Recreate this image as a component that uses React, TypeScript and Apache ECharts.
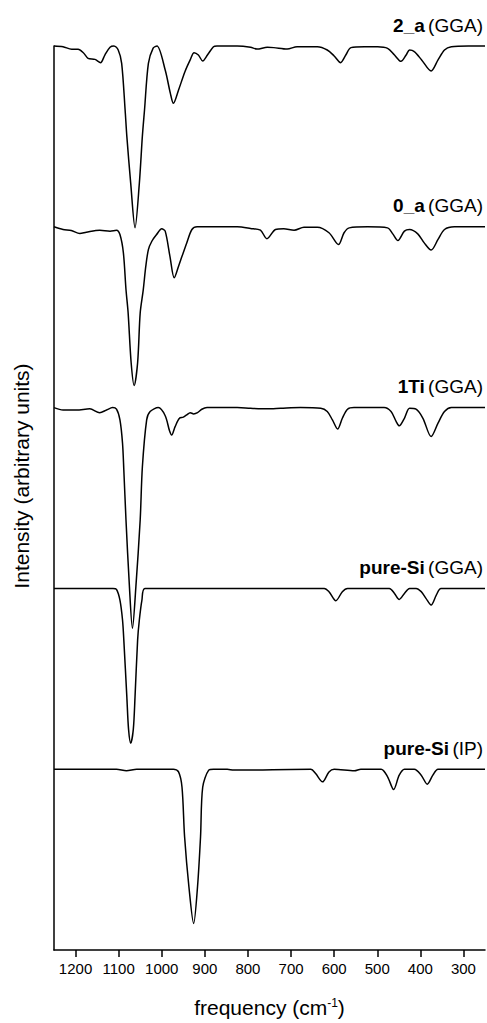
import React, { useEffect, useRef } from "react";
import * as echarts from "echarts";

// x-axis tick labels (wavenumber, cm^-1)
const tickValues = [1200, 1100, 1000, 900, 800, 700, 600, 500, 400, 300];

// spectrum names (bold part, method part)
const names = ["2_a", "0_a", "1Ti", "pure-Si", "pure-Si"];
const methods = ["(GGA)", "(GGA)", "(GGA)", "(GGA)", "(IP)"];
// vertical offsets of each stacked spectrum
const offsets = [5, 4, 3, 2, 1];

// [frequency, intensity] pairs
const spec2a: [number, number][] = [
  [1250, 0], [1229, -0.004], [1209, -0.018], [1194, -0.018], [1182, -0.037], [1171, -0.068],
  [1155, -0.074], [1142, -0.092], [1132, -0.05], [1120, -0.007], [1111, 0], [1101, -0.022],
  [1093, -0.096], [1085, -0.354], [1081, -0.5], [1072, -0.76], [1062, -1.005], [1052, -0.76],
  [1045, -0.5], [1040, -0.354], [1031, -0.096], [1020, -0.012], [1011, 0], [992, -0.133],
  [980, -0.262], [973, -0.317], [961, -0.243], [946, -0.141], [934, -0.077], [925, -0.037],
  [915, -0.05], [905, -0.083], [894, -0.05], [880, -0.004], [872, 0], [825, 0], [794, -0.007],
  [779, -0.017], [755, -0.007], [740, -0.009], [709, -0.017], [686, -0.004], [639, -0.004],
  [616, -0.022], [600, -0.055], [585, -0.092], [573, -0.05], [561, -0.009], [530, -0.004],
  [499, -0.004], [476, -0.013], [460, -0.05], [445, -0.085], [433, -0.05], [425, -0.022],
  [414, -0.031], [397, -0.077], [375, -0.138], [359, -0.077], [344, -0.022], [328, -0.004],
  [289, 0], [250, 0],
];

const spec0a: [number, number][] = [
  [1250, 0], [1229, -0.015], [1210, -0.02], [1190, -0.037], [1175, -0.03], [1144, -0.019],
  [1120, -0.024], [1105, -0.019], [1097, -0.043], [1089, -0.144], [1083, -0.347], [1078, -0.476],
  [1071, -0.752], [1064, -0.878], [1056, -0.752], [1050, -0.476], [1043, -0.35], [1037, -0.218],
  [1031, -0.126], [1023, -0.08], [1012, -0.043], [1000, -0.011], [992, -0.024], [981, -0.163],
  [971, -0.282], [961, -0.218], [953, -0.163], [942, -0.089], [930, -0.015], [918, 0], [825, 0],
  [794, -0.009], [771, -0.019], [756, -0.066], [736, -0.015], [717, -0.011], [693, -0.019],
  [670, -0.002], [639, -0.002], [612, -0.033], [590, -0.098], [577, -0.033], [565, -0.006],
  [522, 0], [476, -0.006], [464, -0.039], [452, -0.076], [437, -0.024], [425, -0.015],
  [406, -0.039], [391, -0.089], [375, -0.129], [359, -0.07], [344, -0.015], [321, 0], [250, 0],
];

const spec1Ti: [number, number][] = [
  [1250, 0], [1229, -0.013], [1198, -0.013], [1167, -0.007], [1144, -0.028], [1128, -0.013],
  [1114, 0], [1105, -0.009], [1097, -0.068], [1091, -0.197], [1088, -0.345], [1083, -0.62],
  [1075, -0.99], [1068, -1.22], [1060, -0.99], [1050, -0.62], [1045, -0.33], [1035, -0.068],
  [1027, -0.022], [1008, 0], [992, -0.045], [982, -0.128], [977, -0.151], [969, -0.105],
  [959, -0.059], [950, -0.053], [942, -0.04], [934, -0.028], [926, -0.035], [917, -0.028],
  [907, -0.009], [895, 0], [825, 0], [794, -0.004], [755, -0.007], [724, -0.004], [678, 0],
  [631, -0.004], [616, -0.022], [604, -0.068], [592, -0.118], [581, -0.059], [569, -0.009],
  [554, 0], [484, 0], [468, -0.022], [456, -0.077], [449, -0.101], [437, -0.059], [425, -0.004],
  [410, -0.009], [394, -0.059], [375, -0.16], [359, -0.086], [344, -0.022], [328, 0], [250, 0],
];

const specPureSiGGA: [number, number][] = [
  [1250, 0], [1113, 0], [1105, -0.005], [1097, -0.065], [1091, -0.175], [1088, -0.286],
  [1081, -0.6], [1077, -0.78], [1072, -0.857], [1066, -0.78], [1062, -0.6], [1056, -0.286],
  [1052, -0.175], [1046, -0.065], [1039, 0], [623, 0], [612, -0.018], [596, -0.068],
  [581, -0.018], [569, 0], [472, 0], [460, -0.028], [449, -0.061], [437, -0.028], [425, 0],
  [410, 0], [398, -0.018], [387, -0.055], [375, -0.092], [363, -0.037], [352, 0], [250, 0],
];

const specPureSiIP: [number, number][] = [
  [1250, 0], [1105, 0], [1082, -0.009], [1058, 0], [973, 0], [961, -0.015], [953, -0.1],
  [947, -0.374], [937, -0.65], [926, -0.853], [917, -0.65], [910, -0.374], [905, -0.1],
  [891, -0.005], [880, 0], [848, 0], [833, -0.005], [654, 0], [643, -0.024], [627, -0.07],
  [612, -0.015], [600, 0], [553, -0.009], [538, 0], [491, 0], [476, -0.042], [462, -0.112],
  [449, -0.033], [437, 0], [414, 0], [398, -0.033], [384, -0.083], [371, -0.033], [359, 0],
  [250, 0],
];

const spectra = [spec2a, spec0a, spec1Ti, specPureSiGGA, specPureSiIP];

const FONT = "'Liberation Sans', Arial, Helvetica, sans-serif";

export default function App() {
  const ref = useRef<HTMLDivElement>(null);
  useEffect(() => {
    document.body.style.margin = "0";
    if (!ref.current) return;
    const chart = echarts.init(ref.current, null, { renderer: "svg" });
    const series = spectra.map((sp, i) => ({
      type: "line",
      name: names[i] + " " + methods[i],
      data: sp.map(([f, v]) => [f, offsets[i] + v]),
      showSymbol: false,
      smooth: 0.3,
      clip: false,
      lineStyle: { color: "#000", width: 1.5 },
      markPoint: {
        symbol: "circle",
        symbolSize: 0,
        silent: true,
        data: [
          {
            coord: [250, offsets[i]],
            label: {
              show: true,
              position: [-2, -21],
              align: "right",
              verticalAlign: "middle",
              formatter: "{b|" + names[i] + "} {n|" + methods[i] + "}",
              rich: {
                b: { fontFamily: FONT, fontSize: 19, fontWeight: "bold", color: "#000" },
                n: { fontFamily: FONT, fontSize: 19, color: "#000" },
              },
            },
          },
        ],
      },
    }));
    chart.setOption({
      animation: false,
      backgroundColor: "#fff",
      grid: { left: 54, right: 2, top: 46, bottom: 73 },
      xAxis: {
        type: "value",
        min: 250,
        max: 1250,
        inverse: true,
        name: "frequency (cm{sup|-1})",
        nameLocation: "middle",
        nameGap: 47,
        nameTextStyle: {
          fontFamily: FONT,
          fontSize: 21,
          color: "#000",
          rich: {
            sup: { fontFamily: FONT, fontSize: 12, color: "#000", verticalAlign: "top" },
          },
        },
        axisLine: { show: true, lineStyle: { color: "#000", width: 1.5 } },
        axisTick: {
          show: true,
          inside: false,
          length: 7,
          customValues: tickValues,
          lineStyle: { color: "#000", width: 1.5 },
        },
        axisLabel: {
          customValues: tickValues,
          formatter: (v: number) => String(v),
          fontFamily: FONT,
          fontSize: 15,
          color: "#000",
          margin: 11,
        },
        splitLine: { show: false },
      },
      yAxis: {
        type: "value",
        min: 0,
        max: 5,
        axisLine: { show: true, lineStyle: { color: "#000", width: 1.5 } },
        axisTick: { show: false },
        axisLabel: { show: false },
        splitLine: { show: false },
      },
      graphic: [
        {
          type: "text",
          x: 21,
          y: 476,
          rotation: Math.PI / 2,
          style: {
            text: "Intensity (arbitrary units)",
            fontFamily: FONT,
            fontSize: 21,
            fill: "#000",
            align: "center",
            verticalAlign: "middle",
          },
        },
      ],
      series,
    });
    return () => chart.dispose();
  }, []);
  return (
    <div
      ref={ref}
      style={{ position: "fixed", left: 0, top: 0, width: 487, height: 1023 }}
    />
  );
}
